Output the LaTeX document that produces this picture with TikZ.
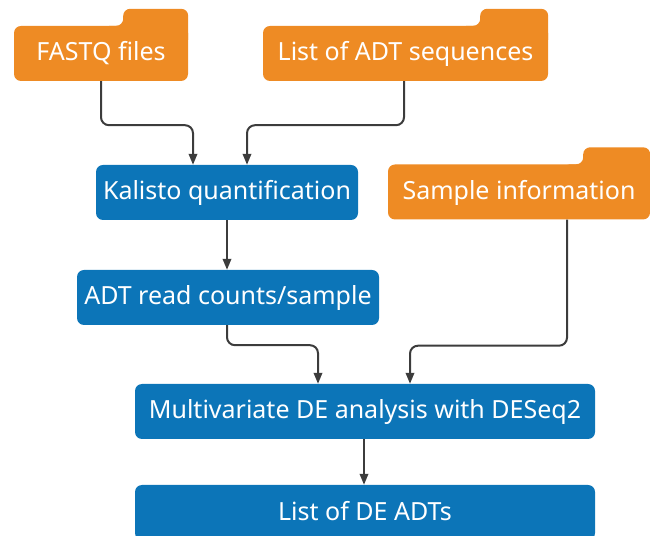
\documentclass[tikz,border=0pt]{standalone}
\usepackage{fontspec}
\setmainfont{Noto Sans}
\usepackage{tikz}
\usetikzlibrary{calc, positioning}
\usetikzlibrary{arrows.meta}
\pgfdeclarelayer{back}
\pgfsetlayers{back,main}
\definecolor{myorange}{HTML}{EE8B24}
\definecolor{myblue}{HTML}{0C75B8}
\definecolor{mygray}{HTML}{3C3C3C}
\tikzset{
  box/.style={rounded corners=7pt, text=white, minimum height=55pt, inner sep=0pt, text height=19pt, text depth=4pt, font=\fontsize{25}{30}\selectfont},
  folder/.style={box, fill=myorange},
  proc/.style={box, fill=myblue},
  flow/.style={-{Triangle[length=11pt,width=8.5pt]}, line width=2pt, mygray, rounded corners=8pt},
}
\newcommand{\foldertab}[2]{%
  \begin{pgfonlayer}{back}
  \fill[myorange, rounded corners=7pt] ($(#1.north east)+(0,-20)$) -- ($(#1.north east)+(0,17)$) -- ($(#1.north east)+(-#2,17)$) -- ($(#1.north east)+(-#2,0)$) -- ($(#1.north east)+(-#2-20,0)$) -- ($(#1.north east)+(-#2-20,-20)$) -- cycle;
  \end{pgfonlayer}}
\begin{document}
\begin{tikzpicture}[x=1pt, y=1pt]
  \useasboundingbox (0,0) rectangle (650,535);
  % inputs
  \node[folder, minimum width=174pt] (fastq) at (101,481.5) {FASTQ files};
  \node[folder, minimum width=285pt] (adtseq) at (405.5,481.5) {List of ADT sequences};
  \node[folder, minimum width=262pt] (sampleinfo) at (519,343) {Sample information};
  \foldertab{fastq}{65}
  \foldertab{adtseq}{68}
  \foldertab{sampleinfo}{67}
  % steps
  \node[proc, minimum width=262pt] (kalisto) at (227,342.5) {Kalisto quantification};
  \node[proc, minimum width=302pt] (counts) at (228,237.5) {ADT read counts/sample};
  \node[proc, minimum width=460pt] (deseq) at (365,123.5) {Multivariate DE analysis with DESeq2};
  \node[proc, minimum width=460pt] (delist) at (365,22.5) {List of DE ADTs};
  % arrows
  \draw[flow] (fastq.south) -- ++(0,-44) -| ([xshift=-34pt]kalisto.north);
  \draw[flow] ([xshift=-1.5pt]adtseq.south) -- ++(0,-44) -| ([xshift=20pt]kalisto.north);
  \draw[flow] (kalisto.south) -- (kalisto.south |- counts.north);
  \draw[flow] ([xshift=-1pt]counts.south) -- ++(0,-20) -| ([xshift=-47pt]deseq.north);
  \draw[flow] ([xshift=48pt]sampleinfo.south) -- ++(0,-126) -| ([xshift=45pt]deseq.north);
  \draw[flow] ([xshift=-1pt]deseq.south) -- ([xshift=-1pt]delist.north);
\end{tikzpicture}
\end{document}
